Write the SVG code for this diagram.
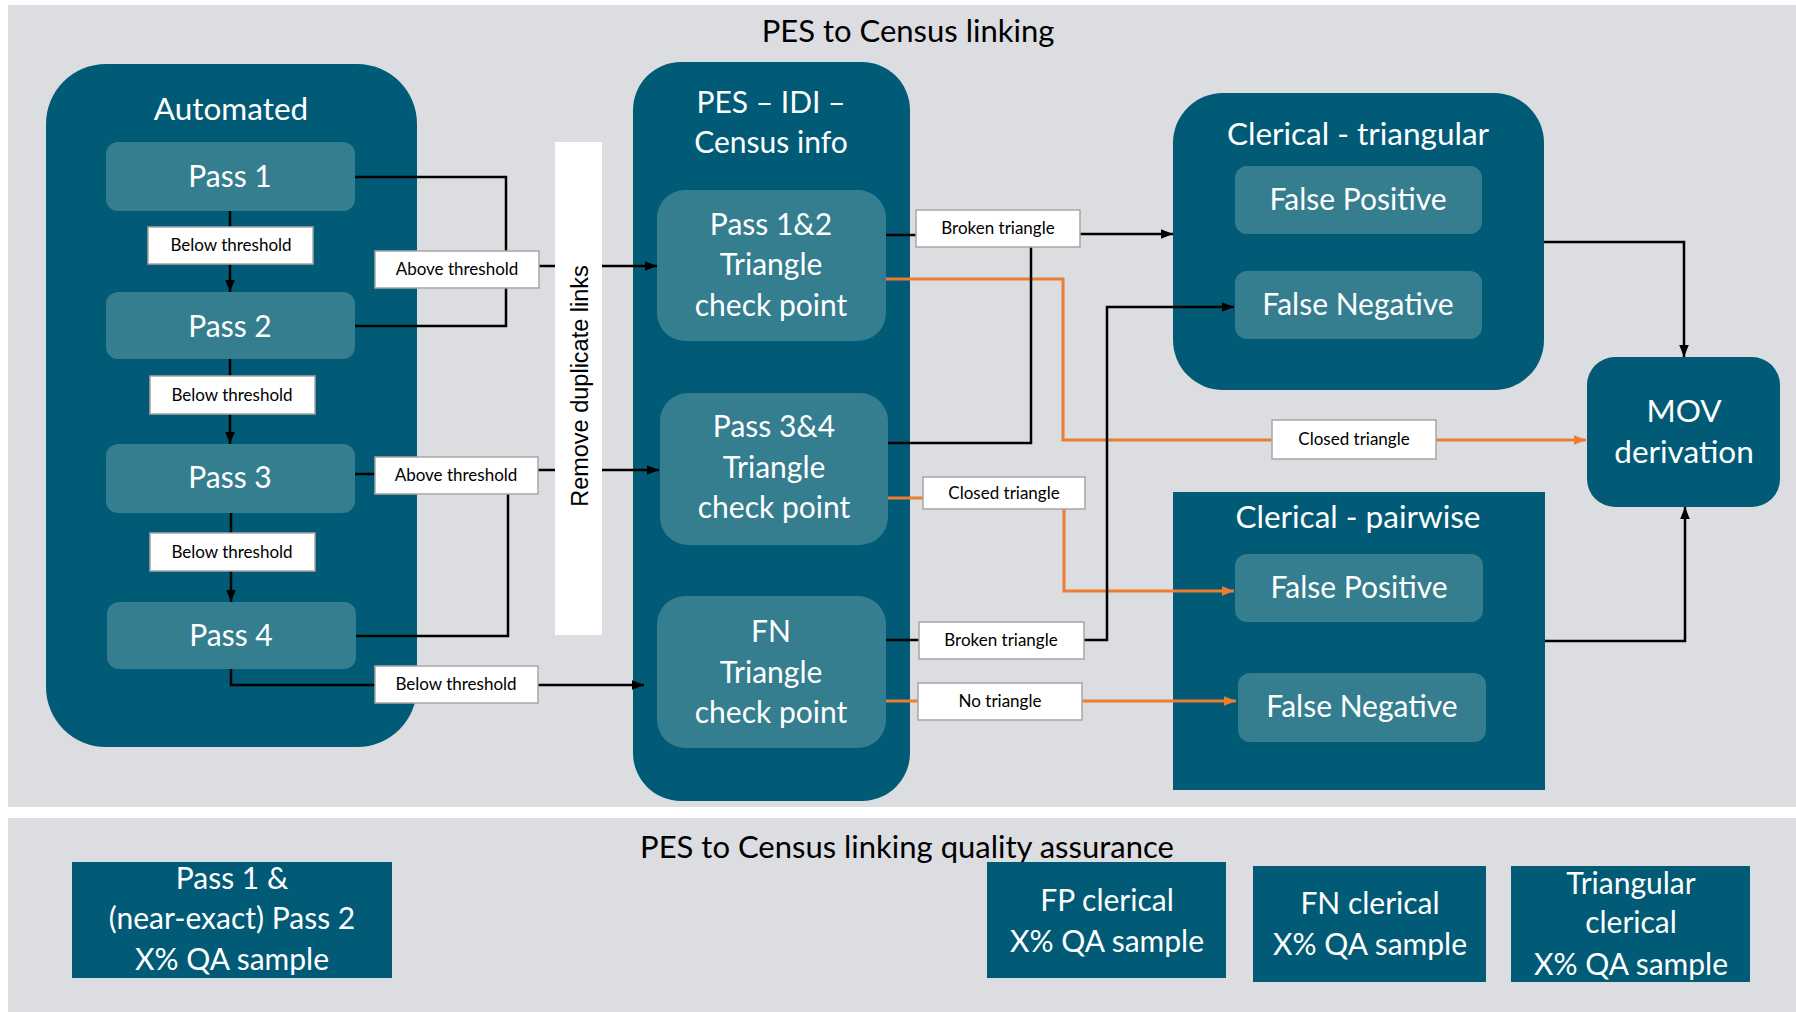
<svg xmlns="http://www.w3.org/2000/svg" width="1796" height="1012" viewBox="0 0 1796 1012">
<defs>
<style>
.panel{fill:#dcdde0}
.cont{fill:#015b76}
.inner{fill:#357e90}
.wt{fill:#ffffff;font-family:Lato,"Liberation Sans",sans-serif;font-size:30px;text-anchor:middle}
.ttl{font-size:31.5px}
.bt{fill:#000000;font-family:Lato,"Liberation Sans",sans-serif;font-size:31px;text-anchor:middle}
.lbl rect{fill:#ffffff;stroke:#a6a6a6;stroke-width:1.5}
.lbl text{fill:#000000;font-family:Lato,"Liberation Sans",sans-serif;font-size:17px;text-anchor:middle}
.k{fill:none;stroke:#000000;stroke-width:2.5}
.o{fill:none;stroke:#ed7d31;stroke-width:3}
</style>
<marker id="ak" viewBox="0 0 10 8" refX="10" refY="4" markerWidth="12" markerHeight="10" markerUnits="userSpaceOnUse" orient="auto"><path d="M0,0 L10,4 L0,8 z" fill="#000000"/></marker>
<marker id="ao" viewBox="0 0 10 8" refX="10" refY="4" markerWidth="12" markerHeight="10" markerUnits="userSpaceOnUse" orient="auto"><path d="M0,0 L10,4 L0,8 z" fill="#ed7d31"/></marker>
</defs>
<rect width="1796" height="1012" fill="#ffffff"/>
<rect class="panel" x="8" y="5" width="1788" height="802"/>
<rect class="panel" x="8" y="818" width="1788" height="194"/>
<text class="bt" x="908" y="42">PES to Census linking</text>
<text class="bt" x="907" y="858" font-size="29">PES to Census linking quality assurance</text>

<g id="automated">
<rect class="cont" x="46" y="64" width="371" height="683" rx="60"/>
<text class="wt ttl" x="231" y="120">Automated</text>
</g>
<g id="pass1"><rect class="inner" x="106" y="142" width="249" height="69" rx="12"/><text class="wt" x="230" y="187">Pass 1</text></g>
<g id="pass2"><rect class="inner" x="106" y="292" width="249" height="67" rx="12"/><text class="wt" x="230" y="337">Pass 2</text></g>
<g id="pass3"><rect class="inner" x="106" y="444" width="249" height="69" rx="12"/><text class="wt" x="230" y="488">Pass 3</text></g>
<g id="pass4"><rect class="inner" x="107" y="602" width="249" height="67" rx="12"/><text class="wt" x="231" y="646">Pass 4</text></g>

<g id="remove-duplicates">
<rect x="555" y="142" width="47" height="493" fill="#ffffff"/>
<text transform="translate(588,386) rotate(-90)" font-family="'Liberation Sans',Arial,sans-serif" font-size="23.5" text-anchor="middle" fill="#000000">Remove duplicate links</text>
</g>

<g id="pes-idi-census">
<rect class="cont" x="633" y="62" width="277" height="739" rx="48"/>
<text class="wt" x="771" y="113">PES – IDI –</text>
<text class="wt" x="771" y="153">Census info</text>
</g>
<g id="tri12"><rect class="inner" x="657" y="190" width="229" height="151" rx="28"/>
<text class="wt" x="771" y="235">Pass 1&amp;2</text><text class="wt" x="771" y="275">Triangle</text><text class="wt" x="771" y="316">check point</text></g>
<g id="tri34"><rect class="inner" x="660" y="393" width="228" height="152" rx="28"/>
<text class="wt" x="774" y="437">Pass 3&amp;4</text><text class="wt" x="774" y="478">Triangle</text><text class="wt" x="774" y="518">check point</text></g>
<g id="fn-tri"><rect class="inner" x="657" y="596" width="229" height="152" rx="28"/>
<text class="wt" x="771" y="642">FN</text><text class="wt" x="771" y="683">Triangle</text><text class="wt" x="771" y="723">check point</text></g>

<g id="clerical-triangular">
<rect class="cont" x="1173" y="93" width="371" height="297" rx="50"/>
<text class="wt ttl" x="1358" y="145">Clerical - triangular</text>
</g>
<g id="ct-fp"><rect class="inner" x="1235" y="166" width="247" height="68" rx="12"/><text class="wt" x="1358" y="210">False Positive</text></g>
<g id="ct-fn"><rect class="inner" x="1235" y="271" width="247" height="68" rx="12"/><text class="wt" x="1358" y="315">False Negative</text></g>

<g id="clerical-pairwise">
<rect class="cont" x="1173" y="492" width="372" height="298"/>
<text class="wt ttl" x="1358" y="528">Clerical - pairwise</text>
</g>
<g id="cp-fp"><rect class="inner" x="1235" y="554" width="248" height="68" rx="12"/><text class="wt" x="1359" y="598">False Positive</text></g>
<g id="cp-fn"><rect class="inner" x="1238" y="673" width="248" height="69" rx="12"/><text class="wt" x="1362" y="717">False Negative</text></g>

<g id="mov">
<rect class="cont" x="1587" y="357" width="193" height="150" rx="28"/>
<text class="wt ttl" x="1684" y="422">MOV</text>
<text class="wt ttl" x="1684" y="463">derivation</text>
</g>

<g id="qa1"><rect class="cont" x="72" y="862" width="320" height="116"/>
<text class="wt" x="232" y="889">Pass 1 &amp;</text><text class="wt" x="232" y="929">(near-exact) Pass 2</text><text class="wt" x="232" y="970">X% QA sample</text></g>
<g id="qa2"><rect class="cont" x="987" y="862" width="239" height="116"/>
<text class="wt" x="1107" y="911">FP clerical</text><text class="wt" x="1107" y="952">X% QA sample</text></g>
<g id="qa3"><rect class="cont" x="1253" y="866" width="233" height="116"/>
<text class="wt" x="1370" y="914">FN clerical</text><text class="wt" x="1370" y="955">X% QA sample</text></g>
<g id="qa4"><rect class="cont" x="1511" y="866" width="239" height="116"/>
<text class="wt" x="1631" y="894">Triangular</text><text class="wt" x="1631" y="933">clerical</text><text class="wt" x="1631" y="975">X% QA sample</text></g>

<g id="connectors">
<path class="k" d="M230 211 V292" marker-end="url(#ak)"/>
<path class="k" d="M230 359 V444" marker-end="url(#ak)"/>
<path class="k" d="M231 513 V602" marker-end="url(#ak)"/>
<path class="k" d="M355 177 H506 V251"/>
<path class="k" d="M355 326 H506 V288"/>
<path class="k" d="M539 266 H555"/>
<path class="k" d="M602 266 H657" marker-end="url(#ak)"/>
<path class="k" d="M355 474 H375"/>
<path class="k" d="M356 636 H508 V494"/>
<path class="k" d="M538 470 H555"/>
<path class="k" d="M602 470 H659" marker-end="url(#ak)"/>
<path class="k" d="M231 669 V685 H375"/>
<path class="k" d="M538 685 H644" marker-end="url(#ak)"/>
<path class="o" d="M886 279 H1063 V440 H1272"/>
<path class="o" d="M1436 440 H1586" marker-end="url(#ao)"/>
<path class="o" d="M888 498 H923"/>
<path class="o" d="M1064 509 V591 H1234" marker-end="url(#ao)"/>
<path class="o" d="M886 701 H918"/>
<path class="o" d="M1082 701 H1236" marker-end="url(#ao)"/>
<path class="k" d="M886 235 H916"/>
<path class="k" d="M1080 234 H1173" marker-end="url(#ak)"/>
<path class="k" d="M888 443 H1031 V247"/>
<path class="k" d="M886 640 H919"/>
<path class="k" d="M1084 640 H1107 V307 H1234" marker-end="url(#ak)"/>
<path class="k" d="M1544 242 H1684 V357" marker-end="url(#ak)"/>
<path class="k" d="M1545 641 H1685 V507" marker-end="url(#ak)"/>
<g class="lbl">
<rect x="148" y="227" width="165" height="37"/><text x="231" y="251">Below threshold</text>
<rect x="150" y="376" width="165" height="38"/><text x="232" y="401">Below threshold</text>
<rect x="150" y="533" width="165" height="38"/><text x="232" y="558">Below threshold</text>
<rect x="375" y="251" width="164" height="37"/><text x="457" y="275">Above threshold</text>
<rect x="375" y="457" width="163" height="37"/><text x="456" y="481">Above threshold</text>
<rect x="375" y="666" width="163" height="37"/><text x="456" y="690">Below threshold</text>
<rect x="916" y="210" width="164" height="37"/><text x="998" y="234">Broken triangle</text>
<rect x="923" y="477" width="162" height="32"/><text x="1004" y="499">Closed triangle</text>
<rect x="919" y="622" width="165" height="37"/><text x="1001" y="646">Broken triangle</text>
<rect x="918" y="683" width="164" height="37"/><text x="1000" y="707">No triangle</text>
<rect x="1272" y="420" width="164" height="39"/><text x="1354" y="445">Closed triangle</text>
</g>
</g>
</svg>
